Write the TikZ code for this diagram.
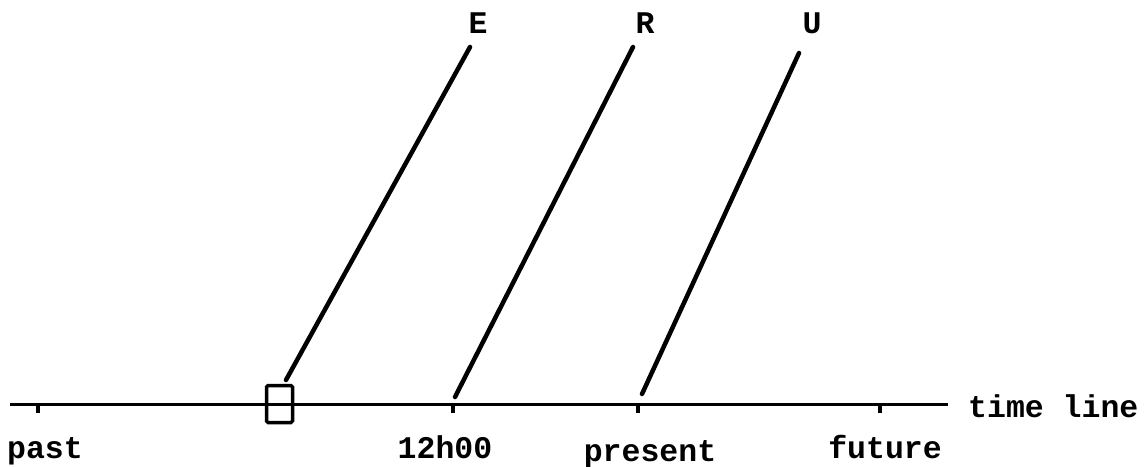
\documentclass[tikz,border=0pt]{standalone}
\usepackage{fontspec}
\setmonofont{Liberation Mono}
\begin{document}
\begin{tikzpicture}[x=1pt,y=-1pt,
  lbl/.style={font=\ttfamily\bfseries\fontsize{31.5}{31.5}\selectfont, inner sep=0pt},
  axis/.style={line width=3pt},
  slant/.style={line width=4.5pt, line cap=round},
  tickmark/.style={line width=3.5pt},
  evbox/.style={draw, line width=3.5pt, rounded corners=1.5pt, minimum width=26pt, minimum height=37pt, inner sep=0pt}]
\useasboundingbox (0,0) rectangle (1147,466);
% time line
\coordinate (L0) at (10,404);
\coordinate (L1) at (948,404);
\draw[axis] (L0) -- (L1);
\node[lbl, anchor=base west] (tl) at (968,417) {time line};
% ticks
\coordinate (tpast) at (38,404);
\coordinate (tnoon) at (453,404);
\coordinate (tpres) at (638,404);
\coordinate (tfut) at (880,404);
\foreach \t in {tpast,tnoon,tpres,tfut}
  \draw[tickmark] (\t) -- ++(0,9);
% event box
\node[evbox] (box) at (279.5,404) {};
% labels below
\node[lbl, anchor=base] (past) at (45,458) {past};
\node[lbl, anchor=base] (noon) at (445,458) {12h00};
\node[lbl, anchor=base] (pres) at (650,461) {present};
\node[lbl, anchor=base] (fut) at (885,458) {future};
% slanted lines
\coordinate (e0) at (286,380);
\coordinate (e1) at (470,47);
\coordinate (r0) at (455,397);
\coordinate (r1) at (633,47);
\coordinate (u0) at (642,394);
\coordinate (u1) at (799,53);
\draw[slant] (e0) -- (e1);
\draw[slant] (r0) -- (r1);
\draw[slant] (u0) -- (u1);
\node[lbl, anchor=base] (E) at (478,33) {E};
\node[lbl, anchor=base] (R) at (645,33) {R};
\node[lbl, anchor=base] (U) at (812,33) {U};
\end{tikzpicture}
\end{document}
